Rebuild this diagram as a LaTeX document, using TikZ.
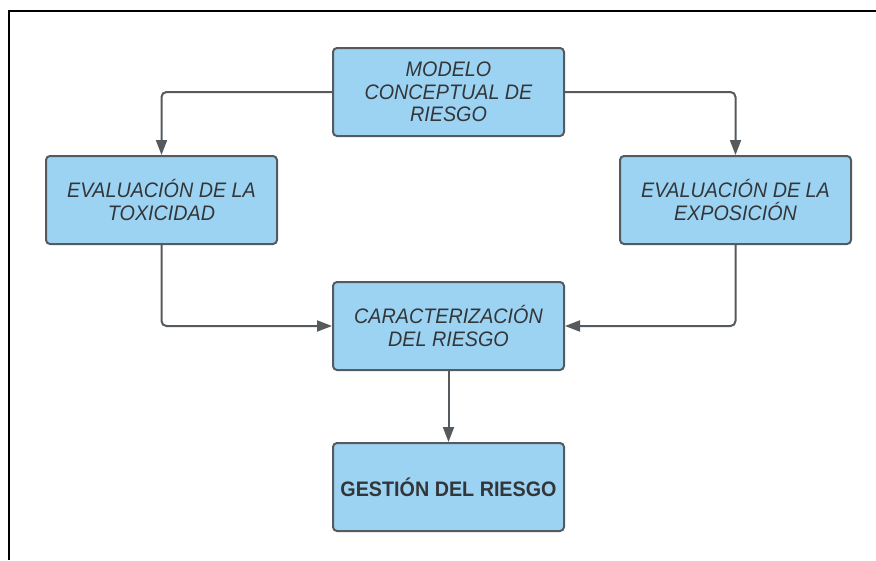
\documentclass[tikz,border=0pt]{standalone}
\usepackage{xcolor}
\definecolor{boxfill}{HTML}{9DD3F2}
\definecolor{boxline}{HTML}{555A5E}
\definecolor{txt}{HTML}{333638}
\usepackage{fontspec}
\setmainfont{Liberation Sans}[FakeStretch=0.94]
\usepackage{tikz}
\usetikzlibrary{arrows.meta}

\tikzset{
    riskbox/.style={draw=boxline, fill=boxfill, line width=2pt, rounded corners=4pt,
        minimum width=231pt, minimum height=88pt, inner sep=0pt, align=center,
        text=txt, font=\fontsize{21}{22.5}\selectfont\itshape},
    flow/.style={draw=boxline, line width=2pt, rounded corners=5pt,
        -{Triangle[length=15pt,width=11pt]}}
}

\begin{document}
\begin{tikzpicture}[x=1pt, y=-1pt]
            \useasboundingbox (0, 0) rectangle (876, 560);
            \draw[line width=2.5pt, black] (9, 560) -- (9, 11) -- (876, 11);

            \node[riskbox] (modelo) at (448.5, 92) {MODELO\\CONCEPTUAL DE\\RIESGO};
            \node[riskbox] (toxicidad) at (161.5, 200) {EVALUACIÓN DE LA\\TOXICIDAD};
            \node[riskbox] (exposicion) at (735.5, 200) {EVALUACIÓN DE LA\\EXPOSICIÓN};
            \node[riskbox] (caracter) at (448.5, 326) {CARACTERIZACIÓN\\DEL RIESGO};
            \node[riskbox, font=\fontsize{21}{22.5}\selectfont\bfseries] (gestion) at (448.5, 487) {GESTIÓN DEL RIESGO};

            \draw[flow] (modelo.west) -| (toxicidad.north);
            \draw[flow] (modelo.east) -| (exposicion.north);
            \draw[flow] (toxicidad.south) |- (caracter.west);
            \draw[flow] (exposicion.south) |- (caracter.east);
            \draw[flow] (caracter.south) -- (gestion.north);
        \end{tikzpicture}
\end{document}
